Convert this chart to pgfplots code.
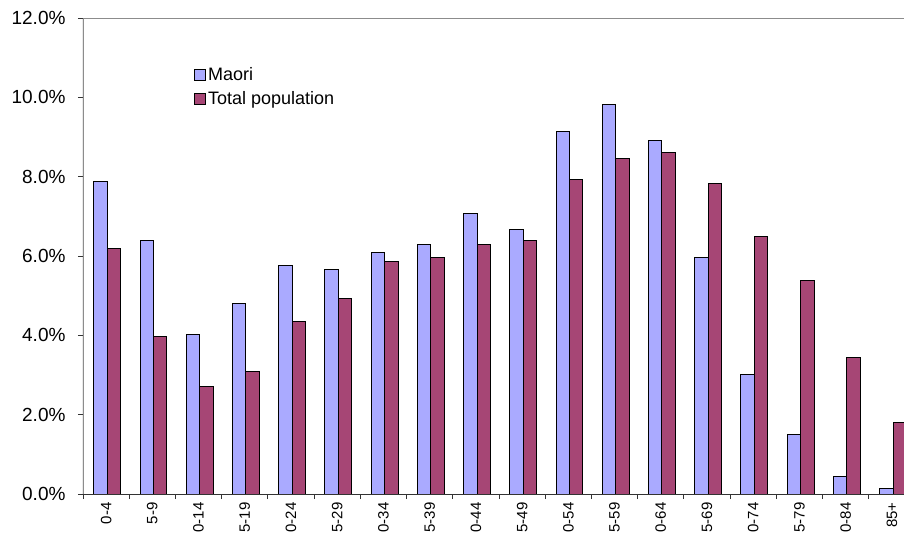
\documentclass[border=0pt]{standalone}
\usepackage{pgfplots}
\pgfplotsset{compat=1.18}
\usepackage{fontspec}
\setmainfont{Liberation Sans}
\definecolor{maori}{RGB}{170,170,255}
\definecolor{total}{RGB}{166,70,117}
\begin{document}
\begin{tikzpicture}
\useasboundingbox (-83bp,-45bp) rectangle (821bp,494bp);
\clip (-83bp,-45bp) rectangle (821bp,494bp);
\begin{axis}[
  at={(0,0)}, anchor=south west,
  width=832bp, height=476bp, scale only axis,
  xmin=-0.5, xmax=17.5, ymin=0, ymax=12,
  axis line style={draw=gray!90, line width=0.8bp},
  ytick={0,2,...,12},
  yticklabel={\pgfmathprintnumber[fixed,fixed zerofill,precision=1]{\tick}\%},
  yticklabel style={font=\fontsize{19bp}{19bp}\selectfont, xshift=-9bp},
  /pgf/number format/assume math mode=true,
  xtick={-0.5,0.5,...,17.5}, x tick label as interval,
  xticklabels={0-4,5-9,0-14,5-19,0-24,5-29,0-34,5-39,0-44,5-49,0-54,5-59,0-64,5-69,0-74,5-79,0-84,85+},
  xticklabel style={rotate=90, anchor=east, font=\fontsize{15bp}{15bp}\selectfont},
  tick align=outside, major tick length=5bp,
  tick style={black!80, line width=0.8bp},
  xtick pos=left, ytick pos=left,
  ybar, bar width=0.29,
  legend style={draw=none, fill=none, at={(0.13,0.905)}, anchor=north west,
    font=\fontsize{18bp}{18bp}\selectfont, row sep=6bp},
  legend cell align=left,
  legend image code/.code={\draw[#1, line width=0.8bp] (0bp,-5.5bp) rectangle (11bp,5.5bp);},
]
\addplot[fill=maori, draw=black, line width=1bp, bar shift=-0.12] coordinates {
(0,7.89) (1,6.38) (2,4.01) (3,4.81) (4,5.75) (5,5.67) (6,6.10) (7,6.28) (8,7.06)
(9,6.68) (10,9.13) (11,9.83) (12,8.92) (13,5.97) (14,3.02) (15,1.51) (16,0.43) (17,0.13)};
\addplot[fill=total, draw=black, line width=1bp, bar shift=0.17] coordinates {
(0,6.18) (1,3.96) (2,2.72) (3,3.10) (4,4.34) (5,4.94) (6,5.85) (7,5.97) (8,6.30)
(9,6.38) (10,7.92) (11,8.47) (12,8.62) (13,7.84) (14,6.48) (15,5.39) (16,3.43) (17,1.79)};
\legend{Maori, Total population}
\draw[black!70, line width=1bp] (rel axis cs:0,0) -- (rel axis cs:0,1);
\draw[black!80, line width=1bp] (rel axis cs:0,0) -- (rel axis cs:1,0);
\end{axis}
\end{tikzpicture}
\end{document}
